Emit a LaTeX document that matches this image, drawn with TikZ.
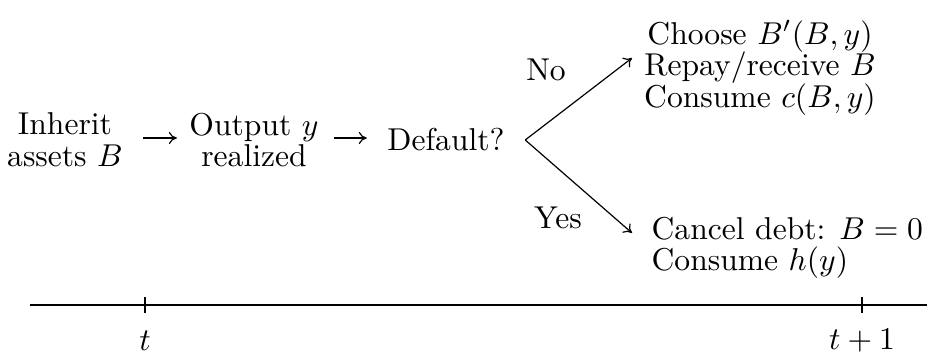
\documentclass[tikz,border=0pt]{standalone}
\usetikzlibrary{arrows.meta}
\begin{document}
\begin{tikzpicture}[x=0.5pt,y=-0.5pt,
  every node/.style={font=\fontsize{10}{10}\selectfont,scale=1.58},
  txt/.style={inner sep=0pt},
  link/.style={line width=0.6pt,-{To[length=4pt,width=6pt]}},
  axis/.style={line width=0.75pt},
  tick/.style={line width=0.6pt}]
\useasboundingbox (0,0) rectangle (927,356);
% stages in period t
\node[txt,align=center] (inherit) at (65,140) {Inherit\\assets $B$};
\node[txt,align=center] (output) at (254,140) {Output $y$\\realized};
\node[txt] (default) at (446,140) {Default?};
\draw[link] ([xshift=10pt,yshift=1pt]inherit.east) -- ([xshift=-6pt,yshift=1pt]output.west);
\draw[link] ([xshift=7.5pt,yshift=1pt]output.east) -- ([xshift=-10pt,yshift=1pt]default.west);
% the two branches
\coordinate (split) at ([xshift=10pt]default.east);
\coordinate (noend) at (632,58);
\coordinate (yesend) at (632,233);
\draw[link] (split) -- (noend);
\draw[link] (split) -- (yesend);
\node[txt] (no) at (546,70) {No};
\node[txt] (yes) at (558,218) {Yes};
\node[txt,align=center] (repay) at (760,68)
  {Choose $B'(B,y)$\\Repay/receive $B$\\Consume $c(B,y)$};
\node[txt,align=left,anchor=west] (cancel) at (651,248)
  {Cancel debt: $B=0$\\Consume $h(y)$};
% time line
\coordinate (a0) at (30,305);
\coordinate (a1) at (927,305);
\draw[axis] (a0) -- (a1);
\node[txt] (tnow) at (145,341) {$t$};
\node[txt] (tnext) at (862,341) {$t+1$};
\draw[tick] (tnow |- a0) ++(0,-8) -- ++(0,16);
\draw[tick] (tnext |- a0) ++(0,-8) -- ++(0,16);
\end{tikzpicture}
\end{document}
